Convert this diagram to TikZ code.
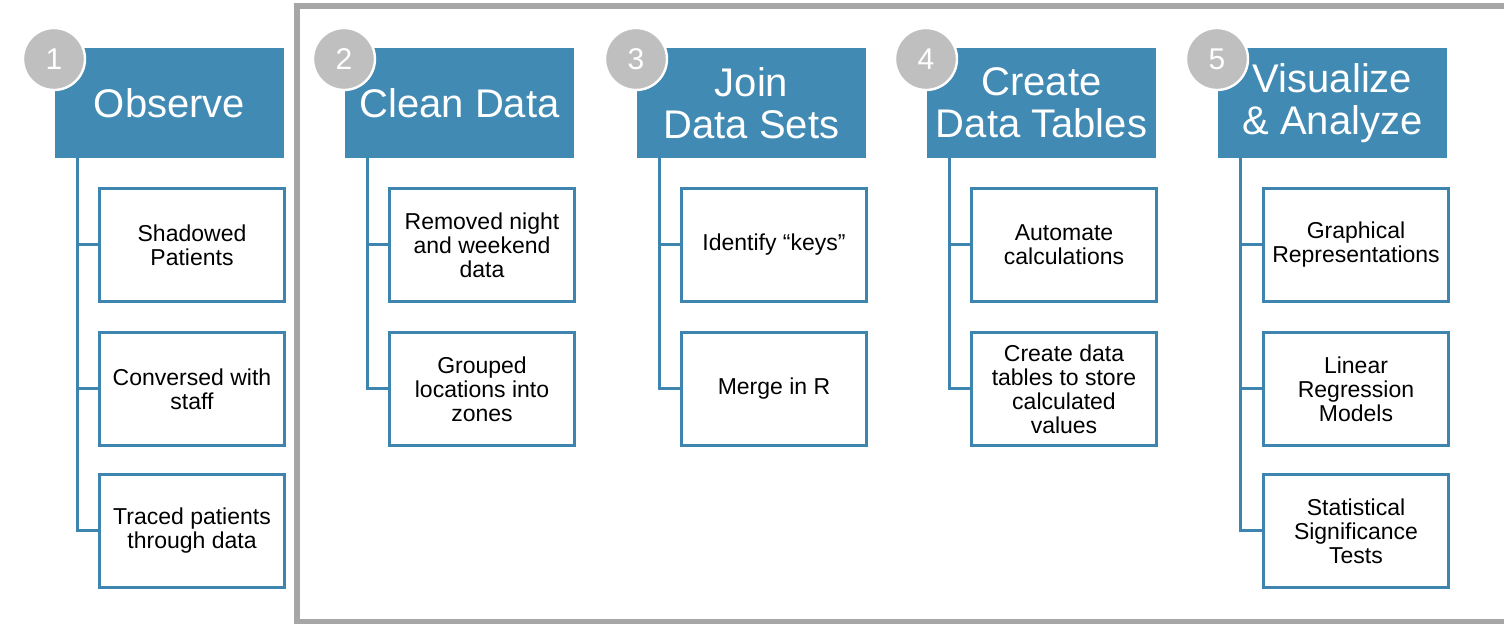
\documentclass[tikz,border=0pt]{standalone}
\usepackage{fontspec}
\setmainfont{Liberation Sans}
\definecolor{hdr}{HTML}{418AB3}
\definecolor{edge}{HTML}{3D84AF}
\definecolor{frm}{HTML}{A6A6A6}
\definecolor{num}{HTML}{BFBFBF}
\begin{document}
\begin{tikzpicture}[x=0.5pt,y=-0.5pt,
 header/.style={fill=hdr, draw=none, text=white, minimum width=114.5pt, minimum height=55pt, anchor=north west, inner sep=0pt, outer sep=0pt, align=center, font=\fontsize{20}{21}\selectfont},
 item/.style={draw=edge, line width=1.5pt, fill=white, minimum width=92.5pt, minimum height=56.5pt, anchor=north west, inner sep=0pt, align=center, font=\fontsize{11.5}{12}\selectfont},
 badge/.style={circle, fill=num, draw=white, line width=1.2pt, minimum size=31pt, inner sep=0pt, text=white, font=\fontsize{15}{15}\selectfont},
 link/.style={draw=edge, line width=1.5pt}]
\useasboundingbox (0,0) rectangle (1504,624);
\begin{scope}
\clip (0,0) rectangle (1504,624);
\draw[frm, line width=3pt] (297,6) rectangle (1540,622);
\end{scope}

% column 1
\node[header] (h1) at (55,48) {Observe};
\node[item] (c11) at (98,187) {Shadowed\\Patients};
\node[item] (c12) at (98,331) {Conversed with\\staff};
\node[item] (c13) at (98,473) {Traced patients\\through data};
\coordinate (t1) at (77,158);
\draw[link] (t1) |- (c11.west);
\draw[link] (t1) |- (c12.west);
\draw[link] (t1) |- (c13.west);
\node[badge] (b1) at (54,59) {1};

% column 2
\node[header] (h2) at (345,48) {Clean Data};
\node[item] (c21) at (388,187) {Removed night\\and weekend\\data};
\node[item] (c22) at (388,331) {Grouped\\locations into\\zones};
\coordinate (t2) at (367,158);
\draw[link] (t2) |- (c21.west);
\draw[link] (t2) |- (c22.west);
\node[badge] (b2) at (344,59) {2};

% column 3
\node[header] (h3) at (637,48) {Join\\Data Sets};
\node[item] (c31) at (680,187) {Identify “keys”};
\node[item] (c32) at (680,331) {Merge in R};
\coordinate (t3) at (659,158);
\draw[link] (t3) |- (c31.west);
\draw[link] (t3) |- (c32.west);
\node[badge] (b3) at (636,59) {3};

% column 4
\node[header] (h4) at (927,48) {Create\\Data Tables};
\node[item] (c41) at (970,187) {Automate\\calculations};
\node[item] (c42) at (970,331) {Create data\\tables to store\\calculated\\values};
\coordinate (t4) at (949,158);
\draw[link] (t4) |- (c41.west);
\draw[link] (t4) |- (c42.west);
\node[badge] (b4) at (926,59) {4};

% column 5
\node[header] (h5) at (1218,48) {Visualize\\\& Analyze};
\node[item] (c51) at (1262,187) {Graphical\\Representations};
\node[item] (c52) at (1262,331) {Linear\\Regression\\Models};
\node[item] (c53) at (1262,473) {Statistical\\Significance\\Tests};
\coordinate (t5) at (1240,158);
\draw[link] (t5) |- (c51.west);
\draw[link] (t5) |- (c52.west);
\draw[link] (t5) |- (c53.west);
\node[badge] (b5) at (1217,59) {5};
\end{tikzpicture}
\end{document}
